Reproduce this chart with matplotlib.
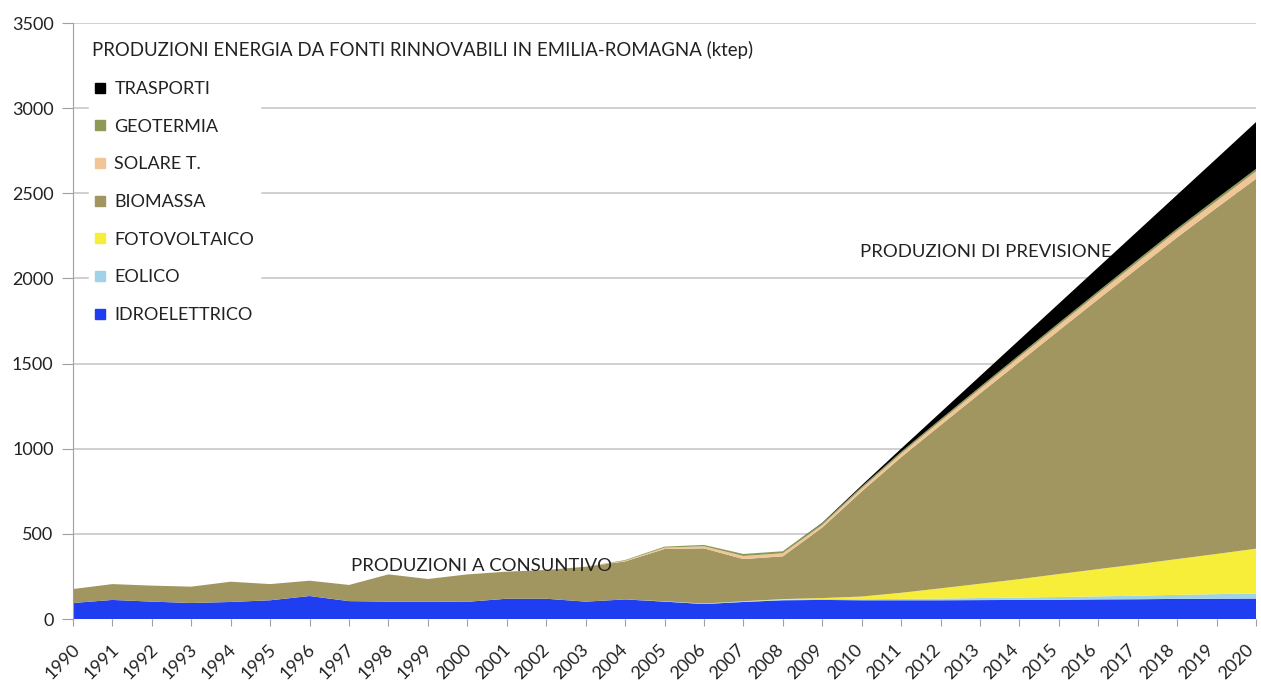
import matplotlib
matplotlib.use("Agg")
import matplotlib.pyplot as plt
from matplotlib.lines import Line2D
from matplotlib.transforms import ScaledTranslation

years = list(range(1990, 2021))
idroelettrico = [94, 112, 102, 94, 100, 110, 135, 105, 102, 102, 101, 119, 119, 102, 115,
                 102, 88, 100, 110, 112, 110, 110, 110, 111, 112, 113, 115, 116, 118, 119, 120]
eolico = [0, 0, 0, 0, 0, 0, 0, 0, 0, 0, 0, 0, 0, 0, 0,
          2, 3, 3, 4, 5, 6, 8, 10, 12, 14, 16, 18, 21, 24, 27, 30]
fotovoltaico = [0, 0, 0, 0, 0, 0, 0, 0, 0, 0, 0, 0, 0, 0, 0,
                0, 0, 1, 3, 6, 16, 36, 60, 84, 108, 135, 160, 185, 210, 236, 263]
biomassa = [82, 93, 94, 96, 119, 95, 90, 95, 160, 133, 161, 159, 169, 205, 223,
            307, 324, 248, 251, 414, 617, 796, 958, 1117, 1275, 1430, 1585, 1738, 1889, 2032, 2172]
solare_t = [0, 0, 0, 0, 0, 0, 0, 0, 0, 0, 0, 0, 0, 0, 4,
            8, 12, 18, 18, 15, 18, 21, 24, 27, 30, 32, 34, 36, 38, 40, 43]
geotermia = [0, 0, 0, 0, 0, 0, 0, 0, 0, 0, 0, 0, 0, 0, 4,
             6, 8, 12, 12, 10, 10, 11, 11, 12, 12, 13, 13, 14, 14, 15, 15]
trasporti = [0, 0, 0, 0, 0, 0, 0, 0, 0, 0, 0, 0, 0, 0, 0,
             0, 0, 0, 0, 3, 8, 18, 40, 63, 88, 113, 140, 168, 198, 235, 275]

labels = ["IDROELETTRICO", "EOLICO", "FOTOVOLTAICO", "BIOMASSA", "SOLARE T.", "GEOTERMIA", "TRASPORTI"]
colors = ["#1f3ef2", "#9fd3e6", "#f7ee3a", "#a19660", "#f1c596", "#8c9a55", "#000000"]
yticks = [0, 500, 1000, 1500, 2000, 2500, 3000, 3500]

title = "PRODUZIONI ENERGIA DA FONTI RINNOVABILI IN EMILIA-ROMAGNA (ktep)"
note_left = "PRODUZIONI A CONSUNTIVO"
note_right = "PRODUZIONI DI PREVISIONE"

plt.rcParams['font.family'] = ['Lato', 'DejaVu Sans']

fig = plt.figure(figsize=(12.61, 6.80), dpi=100)
ax = fig.add_axes([73/1261, 1 - 619/680, (1256-73)/1261, (619-23)/680])

ax.stackplot(years, idroelettrico, eolico, fotovoltaico, biomassa, solare_t, geotermia, trasporti,
             colors=colors, linewidth=0, zorder=2)

ax.set_xlim(1990, 2020)
ax.set_ylim(0, 3500)
ax.set_yticks(yticks)
ax.set_xticks(years)
ax.set_xticklabels([str(y) for y in years], rotation=45, ha='right', rotation_mode='anchor')
ax.grid(axis='y', color='#c8c8c8', linewidth=1.2, zorder=0)
ax.set_axisbelow(True)
for s in ['top', 'right', 'bottom']:
    ax.spines[s].set_visible(False)
ax.spines['left'].set_color('#a0a0a0')
ax.tick_params(axis='y', length=8, color='#a0a0a0', labelsize=13, labelcolor='#222222', pad=6)
ax.tick_params(axis='x', length=5, color='#a0a0a0', labelsize=13, labelcolor='#222222', pad=11)

n = len(ax.get_xticklabels())
for i, lab in enumerate(ax.get_xticklabels()):
    dx = -1 - 10 * i / (n - 1)
    lab.set_transform(lab.get_transform() + ScaledTranslation(dx / 100, 0, fig.dpi_scale_trans))

# legend
handles = [Line2D([0], [0], marker='s', linestyle='none', markersize=7.5,
                  markerfacecolor=c, markeredgecolor=c) for c in colors]
order = list(range(len(labels)))[::-1]
leg = ax.legend([handles[i] for i in order], [labels[i] for i in order],
                loc='upper left', bbox_to_anchor=(0.006, 0.927), frameon=True,
                fontsize=13, labelspacing=1.2, handlelength=0.6, handletextpad=0.5,
                borderpad=0.3, fancybox=False)
leg.get_frame().set_facecolor('white')
leg.get_frame().set_edgecolor('white')
leg.get_frame().set_alpha(1.0)
for t in leg.get_texts():
    t.set_color('#222222')

ax.text(1990.48, 3340, title, fontsize=13.4, color='#222222', va='center', ha='left')
ax.text(2000.35, 312, note_left, fontsize=13.3, color='#222222', ha='center', va='center', zorder=5)
ax.text(2013.15, 2156, note_right, fontsize=13.3, color='#222222', ha='center', va='center', zorder=5)

fig.savefig("out.png", dpi=100)
